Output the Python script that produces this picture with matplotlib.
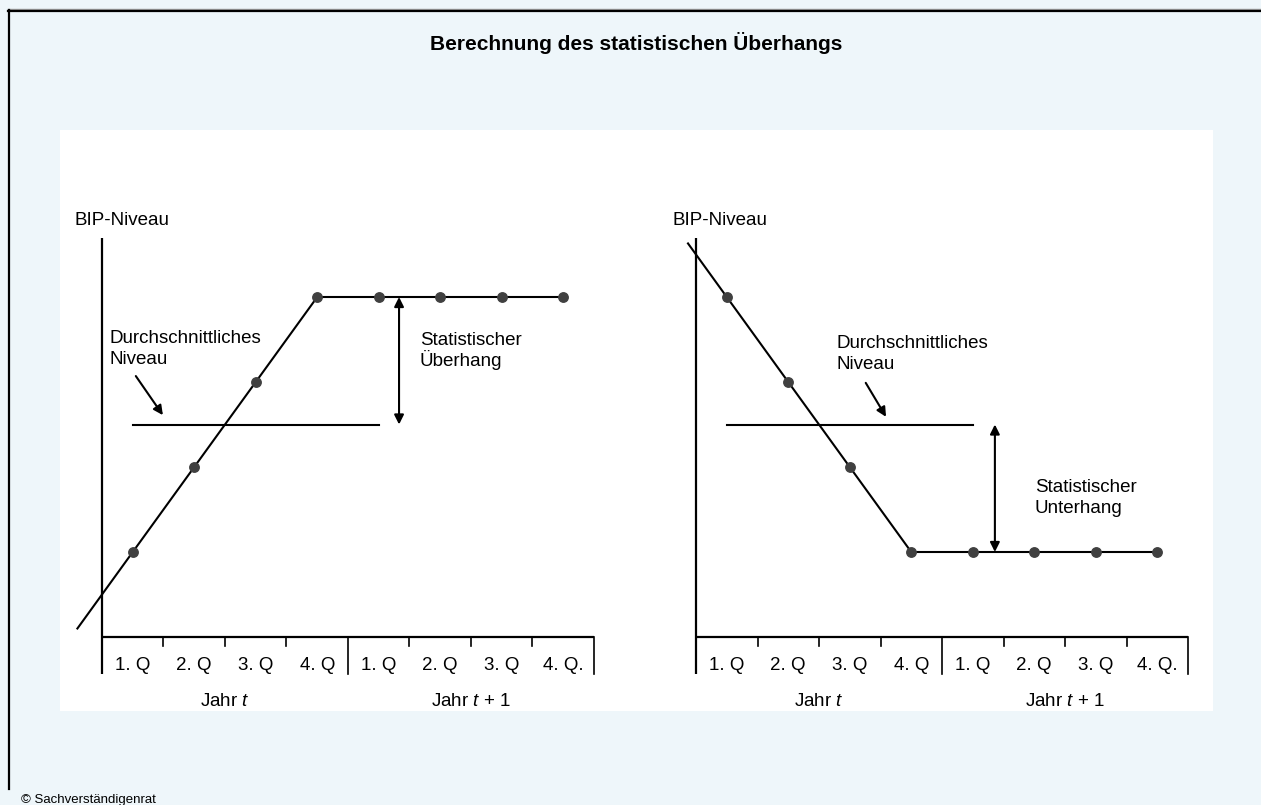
import matplotlib.pyplot as plt
import matplotlib.patches as patches
import numpy as np

plt.rcParams['font.family'] = ['Liberation Sans', 'DejaVu Sans']
plt.rcParams['mathtext.fontset'] = 'custom'
plt.rcParams['mathtext.rm'] = 'Liberation Sans'
plt.rcParams['mathtext.it'] = 'Liberation Sans:italic'

# Daten
quartale = ["1. Q", "2. Q", "3. Q", "4. Q", "1. Q", "2. Q", "3. Q", "4. Q."]
jahre = ["Jahr $t$", "Jahr $t$ + $\\mathit{1}$"]
bip_steigend = [1, 2, 3, 4, 4, 4, 4, 4]
bip_fallend = [4, 3, 2, 1, 1, 1, 1, 1]
start_steigend = (-0.4, 0.1)   # Verlängerung der Linie vor dem 1. Q
start_fallend = (-0.13, 4.63)

W, H = 1261, 805
fig = plt.figure(figsize=(W / 100, H / 100), dpi=100)
fig.patch.set_facecolor('#eef6fa')

# Hintergrund: Rahmen und weisse Fläche
bg = fig.add_axes([0, 0, 1, 1])
bg.set_xlim(0, W)
bg.set_ylim(H, 0)
bg.axis('off')
bg.add_patch(patches.Rectangle((60, 130), 1153, 581, facecolor='white', edgecolor='none'))
bg.plot([8, W], [9.5, 9.5], color='#999999', lw=1)
bg.plot([8, W], [11, 11], color='black', lw=1.6)
bg.plot([9, 9], [10, 789], color='black', lw=1.6)
bg.text(636, 43, "Berechnung des statistischen Überhangs", ha='center', va='center',
        fontsize=15, fontweight='bold')
bg.text(21, 803, "© Sachverständigenrat", ha='left', va='baseline', fontsize=9.5)

QW = 61.5   # Pixel pro Quartal
LV = 85     # Pixel pro Niveaueinheit
BASE = 637  # Pixelzeile des Niveaus 0
XL, XR = -0.6, 8.2
YB, YT = -0.95, 4.8
FS = 13.5
ZEILE = 0.25  # Zeilenabstand in Niveaueinheiten


def zeilen(ax, x, y, text):
    for k, z in enumerate(text.split("\n")):
        ax.text(x, y - k * ZEILE, z, ha='left', va='baseline', fontsize=FS)


def panel(x0, werte, start, arrow_x, pfeil, durch_x, durch_y, label):
    left = x0 + XL * QW
    right = x0 + XR * QW
    bottom = BASE - YB * LV
    top = BASE - YT * LV
    ax = fig.add_axes([left / W, 1 - bottom / H, (right - left) / W, (bottom - top) / H])
    ax.set_xlim(XL, XR)
    ax.set_ylim(YB, YT)
    ax.axis('off')
    ax.patch.set_alpha(0)

    xs = np.arange(len(werte)) + 0.5
    # Achsen
    ax.plot([0, 0], [-0.44, 4.69], color='black', lw=1.6, solid_capstyle='butt')
    ax.plot([0, 8], [0, 0], color='black', lw=1.6, solid_capstyle='butt')
    for i in range(1, 9):
        tief = -0.44 if i in (4, 8) else -0.11
        ax.plot([i, i], [0, tief], color='black', lw=1.2)
    for x, q in zip(xs, quartale):
        ax.text(x, -0.33, q, ha='center', va='center', fontsize=FS)
    ax.text(2, -0.76, jahre[0], ha='center', va='center', fontsize=FS)
    ax.text(6, -0.76, jahre[1], ha='center', va='center', fontsize=FS)
    ax.text(label, 4.9, "BIP-Niveau", ha='left', va='center', fontsize=FS)

    # Verlauf
    ax.plot([start[0]] + list(xs), [start[1]] + list(werte), color='black', lw=1.5, zorder=3)
    ax.plot(xs, werte, 'o', color='#404040', ms=6.8, zorder=4)

    # Durchschnitt
    avg = np.mean(werte[:4])
    ax.plot([xs[0], xs[4]], [avg, avg], color='black', lw=1.5)

    # Überhang / Unterhang
    ax.annotate('', xy=(arrow_x, werte[-1]), xytext=(arrow_x, avg),
                arrowprops=dict(arrowstyle='<|-|>', color='black', lw=1.5,
                                mutation_scale=14, shrinkA=0, shrinkB=0))
    ax.annotate('', xy=pfeil[1], xytext=pfeil[0],
                arrowprops=dict(arrowstyle='-|>', color='black', lw=1.5,
                                mutation_scale=14, shrinkA=0, shrinkB=0))
    zeilen(ax, durch_x, durch_y, "Durchschnittliches\nNiveau")
    return ax


ax1 = panel(102, bip_steigend, start_steigend, 4.83,
            ((0.55, 3.07), (0.99, 2.61)), 0.13, 3.46, -0.455)
zeilen(ax1, 5.17, 3.44, "Statistischer\nÜberhang")

ax2 = panel(696, bip_fallend, start_fallend, 4.86,
            ((2.76, 2.99), (3.09, 2.59)), 2.28, 3.40, -0.39)
zeilen(ax2, 5.51, 1.71, "Statistischer\nUnterhang")

fig.savefig("out.png", dpi=100, facecolor=fig.get_facecolor())
